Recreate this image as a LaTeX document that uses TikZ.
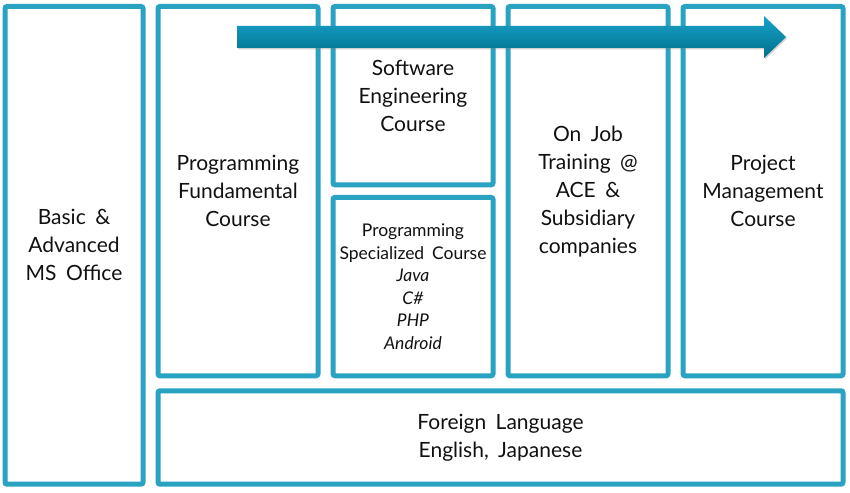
\documentclass[tikz,border=0pt]{standalone}
\usepackage{fontspec}
\setmainfont{Lato}
\usepackage{tikz}
\usepackage{xcolor}
\usetikzlibrary{positioning, shadows}
\definecolor{frame}{HTML}{2AA2C2}
\definecolor{arrowtop}{HTML}{18A2CA}
\definecolor{arrowbottom}{HTML}{006F8B}
\definecolor{ink}{HTML}{111111}
\tikzset{
    course/.style={
        rectangle, rounded corners=2pt, draw=frame, fill=white, line width=5pt,
        text=ink, align=center, inner sep=0pt,
        font=\fontsize{21}{28}\selectfont,
        execute at begin node={\spaceskip=0.45em\relax}
    },
    column/.style={
        course, minimum width=160pt, minimum height=369.3pt
    },
    halfcolumn/.style={
        course, minimum width=160pt, minimum height=178.4pt
    },
    bigarrow/.style={
        top color=arrowtop, bottom color=arrowbottom,
        drop shadow={opacity=0.35, shadow xshift=1pt, shadow yshift=-1.5pt}
    }
}
\begin{document}
\begin{tikzpicture}[x=1pt, y=-1pt]
      \useasboundingbox (0,0) rectangle (850,492);

      \node[course, minimum width=138pt, minimum height=477.7pt, anchor=north west] (msoffice) at (2.5,4) {Basic \&\\Advanced\\MS Office};
      \node[column, right=10pt of msoffice.north east, anchor=north west] (progfund) {Programming\\Fundamental\\Course};
      \node[halfcolumn, right=10pt of progfund.north east, anchor=north west] (softeng) {Software\\Engineering\\Course};
      \node[halfcolumn, below=7.5pt of softeng, font=\fontsize{17.5}{22.5}\selectfont] (progspec) {Programming\\Specialized Course\\\textit{Java}\\\textit{C\#}\\\textit{PHP}\\\textit{Android}};
      \node[column, right=10pt of softeng.north east, anchor=north west] (jobtrain) {On Job\\Training @\\ACE \&\\Subsidiary\\companies};
      \node[column, right=10pt of jobtrain.north east, anchor=north west] (projmgmt) {Project\\Management\\Course};
      \node[course, minimum width=685pt, minimum height=93.4pt, below=10pt of progfund.south west, anchor=north west] (language) {Foreign Language\\English, Japanese};

      \path[bigarrow] (237,26) -- (764,26) -- (764,16) -- (786,37) -- (764,58) -- (764,48) -- (237,48) -- cycle;
    \end{tikzpicture}
\end{document}
